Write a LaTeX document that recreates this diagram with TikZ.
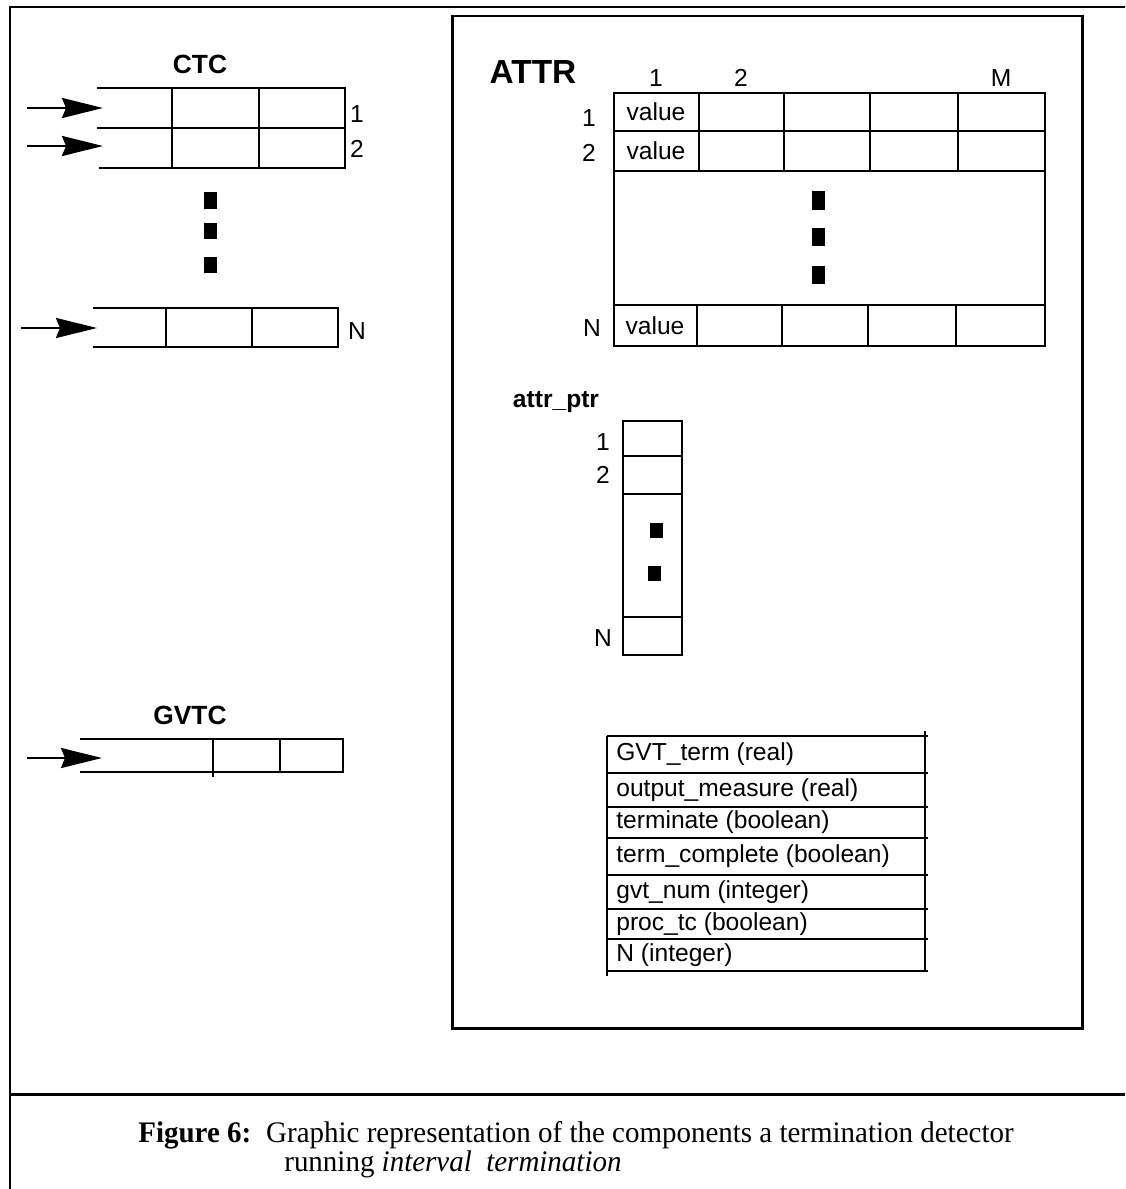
\documentclass[tikz,border=0pt]{standalone}
\usepackage{fontspec}
\setmainfont{Liberation Serif}
\setsansfont{Liberation Sans}
\newfontfamily\capfont[FakeStretch=0.97]{Liberation Serif}
\usetikzlibrary{arrows.meta,positioning}
\tikzset{
  frame/.style={line width=1.7pt},
  grid/.style={line width=1.6pt},
  lbl/.style={font=\sffamily\fontsize{14}{16}\selectfont, inner sep=0pt},
  title/.style={font=\sffamily\bfseries\fontsize{15}{17}\selectfont, inner sep=0pt},
  fld/.style={lbl, anchor=west},
  blk/.style={rectangle, fill=black, inner sep=0pt, minimum width=0.26cm, minimum height=0.34cm},
  ar/.style={-{Stealth[length=8.2mm,width=4mm,inset=0.8mm]}, line width=1.2pt},
  capt/.style={font=\capfont\fontsize{17}{20}\selectfont, inner sep=0pt, anchor=base west},
}

\begin{document}
\begin{tikzpicture}[x=0.02cm,y=-0.02cm]
\useasboundingbox (0,0) rectangle (1125,1189);

% ===================== OUTER FRAME =====================
\draw[frame] (10,1189) -- (10,7) -- (1125,7);
\draw[frame] (10,1094) -- (1125,1094);
\draw[frame] (452,16) rectangle (1082,1028);

% ===================== CTC =====================
\node[title] (ctc) at (200,64) {CTC};
\draw[grid] (97,88) -- (345,88) -- (345,168) -- (99,168);
\draw[grid] (97,128) -- (345,128);
\draw[grid] (172,88) -- (172,168);
\draw[grid] (259,88) -- (259,168);
\node[lbl] (ctc1) at (357,114) {1};
\node[lbl] (ctc2) at (357,149) {2};

\coordinate (in1) at (27,108);  \coordinate (hd1) at (103,108);
\coordinate (in2) at (27,146);  \coordinate (hd2) at (103,146);
\draw[ar] (in1) -- (hd1);
\draw[ar] (in2) -- (hd2);

\foreach \y [count=\i] in {201,231,265}
  \node[blk] (cdot\i) at (210,\y) {};

\draw[grid] (93,308) -- (338,308) -- (338,347) -- (93,347);
\draw[grid] (166,308) -- (166,347);
\draw[grid] (252,308) -- (252,347);
\node[lbl] (ctcN) at (357,331) {N};
\coordinate (inN) at (21,328);  \coordinate (hdN) at (97,328);
\draw[ar] (inN) -- (hdN);

% ===================== GVTC =====================
\node[title] (gvtc) at (190,715) {GVTC};
\draw[grid] (80,739) -- (343,739) -- (343,772) -- (80,772);
\draw[grid] (213,739) -- (213,777);
\draw[grid] (280,739) -- (280,772);
\coordinate (inG) at (27,758);  \coordinate (hdG) at (102,758);
\draw[ar] (inG) -- (hdG);

% ===================== ATTR =====================
\node[title, font=\sffamily\bfseries\fontsize{19}{21}\selectfont] (attr) at (533,72) {ATTR};
\draw[grid] (614,93) rectangle (1045,346);
\foreach \y in {131,171,305}
  \draw[grid] (614,\y) -- (1045,\y);
\foreach \x in {699,784,870,958} {
  \draw[grid] (\x,93) -- (\x,171);
  \draw[grid] (\x-2,305) -- (\x-2,346);
}
\node[lbl] (col1) at (656,78) {1};
\node[lbl] (col2) at (741,78) {2};
\node[lbl] (colM) at (1001,78) {M};
\node[lbl] (row1) at (589,118) {1};
\node[lbl] (row2) at (589,153) {2};
\node[lbl] (rowN) at (592,328) {N};
\node[lbl] (v1) at (656,112) {value};
\node[lbl] (v2) at (656,151) {value};
\node[lbl] (vN) at (655,326) {value};
\foreach \y [count=\i] in {201,237,275}
  \node[blk, minimum height=0.38cm] (adot\i) at (818,\y) {};

% ===================== attr_ptr =====================
\node[title, font=\sffamily\bfseries\fontsize{14}{16}\selectfont] (aptr) at (556,402) {attr\_ptr};
\draw[grid] (623,421) rectangle (682,655);
\foreach \y in {456,494,617}
  \draw[grid] (623,\y) -- (682,\y);
\node[lbl] (p1) at (603,442) {1};
\node[lbl] (p2) at (603,475) {2};
\node[lbl] (pN) at (603,638) {N};
\node[blk, minimum height=0.3cm] (pdot1) at (656,530) {};
\node[blk, minimum height=0.3cm] (pdot2) at (654,573) {};

% ===================== GLOBALS TABLE =====================
\draw[grid] (607,736) -- (607,976);
\draw[grid] (925,731) -- (925,971);
\foreach \y in {736,773,807,838,875,909,939,971}
  \draw[grid] (607,\y) -- (928,\y);
\node[fld] (g1) at (616,754.5) {GVT\_term (real)};
\node[fld] (g2) at (616,790) {output\_measure (real)};
\node[fld] (g3) at (616,822.5) {terminate (boolean)};
\node[fld] (g4) at (616,856.5) {term\_complete (boolean)};
\node[fld] (g5) at (616,892) {gvt\_num (integer)};
\node[fld] (g6) at (616,924) {proc\_tc (boolean)};
\node[fld] (g7) at (616,955) {N (integer)};

% ===================== CAPTION =====================
\node[capt] (cap1) at (138,1142) {\textbf{Figure 6:}\hspace{0.5em}Graphic representation of the components a termination detector};
\node[capt] (cap2) at (284,1171) {running \textit{interval\ \ termination}};

\end{tikzpicture}
\end{document}
